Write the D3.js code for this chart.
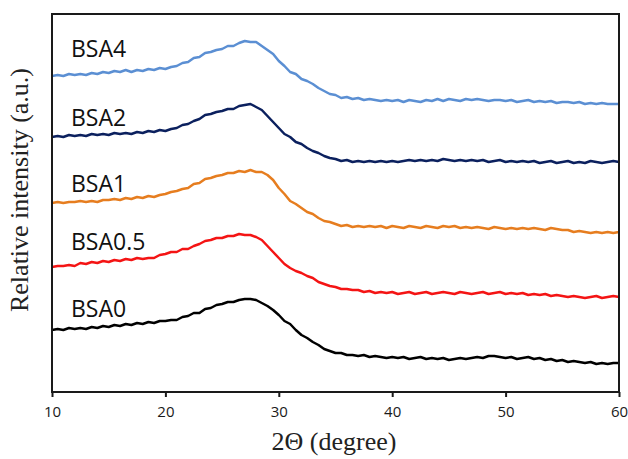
<!DOCTYPE html>
<html>
<head>
<meta charset="utf-8">
<script src="https://cdn.jsdelivr.net/npm/d3@7"></script>
<style>
  html, body { margin: 0; padding: 0; background: #fff; }
  svg { display: block; }
</style>
</head>
<body>
<svg id="chart" width="628" height="459"></svg>
<script>
// XRD patterns, 2θ from 10° to 60° in 0.5° steps; traces are offset vertically.
const twoTheta = d3.range(10, 60.25, 0.5);

const sampleNames = ["BSA4", "BSA2", "BSA1", "BSA0.5", "BSA0"];
const sampleColors = ["#5b8fd3", "#0b205e", "#e67d1f", "#f41414", "#000000"];
const xTicks = [10, 20, 30, 40, 50, 60];

// Relative intensity (a.u., stacked)
const bsa4 = [316,317,316,318,317,318,317,319,318,320,319,321,320,322,320,322,321,323,322,324,
  323,325,326,329,330,334,335,339,340,342,343,346,346,349,351,350,350,346,342,338,
  331,326,320,318,313,311,308,304,301,298,297,294,295,293,294,292,293,292,291,292,
  291,292,290,292,291,290,292,291,293,291,293,292,291,293,292,293,292,291,292,292,
  291,292,290,291,292,290,291,290,291,289,290,290,289,290,288,289,288,289,288,288,288];
const bsa2 = [255,256,255,257,256,257,256,258,257,258,257,259,258,259,258,260,259,261,260,262,
  261,263,264,267,268,271,273,277,278,280,281,283,283,286,287,288,285,282,276,270,
  264,258,255,250,248,244,241,239,236,234,233,231,232,230,231,230,231,230,231,230,
  231,230,231,232,231,232,231,232,231,233,232,231,232,231,232,231,232,230,231,232,
  230,231,230,231,230,231,229,230,231,229,230,231,229,230,229,231,230,229,230,231,230];
const bsa1 = [189,190,189,190,190,191,190,191,190,192,192,193,192,194,193,195,194,196,195,197,
  198,200,201,203,204,208,209,213,214,216,217,219,219,221,220,222,220,220,217,212,
  204,198,191,188,184,180,178,174,171,170,168,166,167,165,166,165,166,165,166,164,
  166,165,164,166,165,164,166,165,164,166,165,166,164,165,164,165,164,163,165,164,
  163,164,163,164,163,164,163,162,164,163,162,162,160,161,160,159,160,159,160,159,160];
const bsa05 = [125,126,126,127,126,129,128,130,129,131,130,132,131,133,132,134,133,134,134,137,
  138,140,140,143,143,146,148,151,152,154,154,156,156,158,157,157,155,152,146,140,
  134,128,124,121,119,116,114,110,108,106,105,103,103,102,102,100,101,99,100,99,
  100,98,99,100,98,99,100,98,99,100,99,98,100,99,98,99,100,98,99,100,
  98,99,98,99,97,98,97,98,96,97,96,95,96,95,94,95,96,94,95,96,95];
const bsa0 = [62,63,62,64,63,64,63,65,64,66,65,67,66,68,67,69,68,70,69,71,
  71,72,72,75,76,79,79,83,84,87,88,90,90,92,93,93,92,89,86,82,
  77,71,68,62,57,54,50,47,43,41,39,39,37,37,36,37,35,36,35,34,
  35,34,35,33,34,35,33,34,33,34,32,33,34,33,34,35,34,36,36,35,
  34,35,33,34,35,33,34,32,33,31,32,30,31,30,29,30,28,29,28,29,29];

const seriesValues = [bsa4, bsa2, bsa1, bsa05, bsa0];

// ---- layout ----
const svg = d3.select("#chart");
const plot = { left: 52, right: 619, top: 14, bottom: 392 };

const x = d3.scaleLinear().domain([10, 60]).range([plot.left, plot.right]);
const y = d3.scaleLinear().domain([0, 378]).range([plot.bottom, plot.top]);

const line = d3.line()
  .x(d => x(d[0]))
  .y(d => y(d[1]))
  .curve(d3.curveLinear);

// traces
svg.append("g")
  .selectAll("path")
  .data(seriesValues)
  .join("path")
  .attr("fill", "none")
  .attr("stroke", (d, i) => sampleColors[i])
  .attr("stroke-width", 2.5)
  .attr("stroke-linejoin", "round")
  .attr("d", vals => line(twoTheta.map((t, k) => [t, vals[k]])));

// sample labels
const labelBaseline = [57, 126, 192, 250, 317];
svg.append("g")
  .selectAll("text")
  .data(sampleNames)
  .join("text")
  .attr("x", 71)
  .attr("y", (d, i) => labelBaseline[i])
  .attr("font-family", "'Open Sans', sans-serif")
  .attr("font-size", 23)
  .attr("fill", "#111")
  .text(d => d);

// frame
svg.append("rect")
  .attr("x", plot.left)
  .attr("y", plot.top)
  .attr("width", plot.right - plot.left)
  .attr("height", plot.bottom - plot.top)
  .attr("fill", "none")
  .attr("stroke", "#1a1a1a")
  .attr("stroke-width", 2);

// bottom axis
const xAxis = d3.axisBottom(x)
  .tickValues(xTicks)
  .tickSize(5)
  .tickSizeOuter(0)
  .tickPadding(9);

const gx = svg.append("g")
  .attr("transform", `translate(0,${plot.bottom})`)
  .call(xAxis);
gx.select(".domain").remove();
gx.selectAll(".tick line").attr("stroke", "#1a1a1a").attr("stroke-width", 2);
gx.selectAll(".tick text")
  .attr("font-family", "'Open Sans', sans-serif")
  .attr("font-size", 15)
  .attr("fill", "#1a1a1a");

// axis titles
svg.append("text")
  .attr("x", 334)
  .attr("y", 450)
  .attr("text-anchor", "middle")
  .attr("font-family", "'Liberation Serif', serif")
  .attr("font-size", 26)
  .attr("fill", "#222")
  .text("2\u0398 (degree)");

svg.append("text")
  .attr("transform", "translate(28,190) rotate(-90)")
  .attr("text-anchor", "middle")
  .attr("font-family", "'Liberation Serif', serif")
  .attr("font-size", 26)
  .attr("fill", "#222")
  .text("Relative intensity (a.u.)");
</script>
</body>
</html>
